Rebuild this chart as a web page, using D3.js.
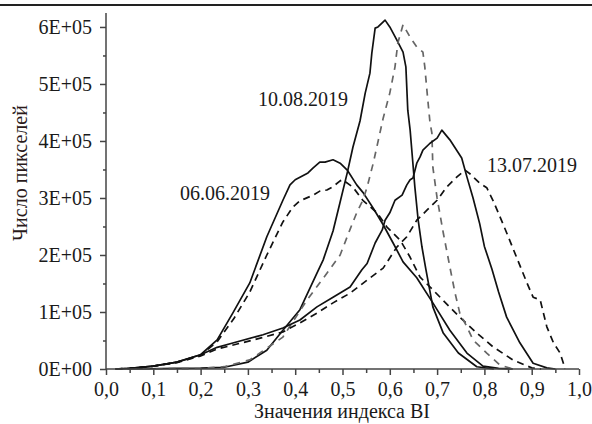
<!DOCTYPE html>
<html><head><meta charset="utf-8">
<script src="https://cdn.jsdelivr.net/npm/d3@7"></script>
<style>
html,body{margin:0;padding:0;background:#fff;}
svg{display:block;}
svg text{font-family:"Liberation Serif","Tinos","Times New Roman","DejaVu Serif","Noto Serif",serif !important;}
</style></head>
<body><svg id="c" width="592" height="424"></svg>
<script>
// ---- data (x = BI index, y = pixel count in units of 1E+05) ----
const x0606s = [0.02,0.05,0.10,0.15,0.20,0.235,0.268,0.304,0.34,0.374,0.389,0.40,0.427,0.438,0.452,0.463,0.48,0.495,0.51,0.53,0.544,0.565,0.586,0.607,0.628,0.657,0.691,0.727,0.763,0.797,0.83,0.86];
const y0606s = [0,0.01,0.05,0.12,0.25,0.51,0.98,1.51,2.32,2.96,3.23,3.32,3.44,3.53,3.63,3.63,3.67,3.61,3.49,3.23,3.09,2.82,2.53,2.21,1.88,1.60,1.16,0.68,0.28,0.05,0.01,0];
const x0606d = [0.02,0.05,0.10,0.15,0.20,0.235,0.27,0.304,0.34,0.374,0.395,0.41,0.438,0.452,0.467,0.48,0.495,0.50,0.522,0.543,0.573,0.594,0.622,0.643,0.664,0.691,0.712,0.748,0.784,0.818,0.86,0.90,0.92];
const y0606d = [0,0.01,0.05,0.12,0.24,0.48,0.88,1.35,2.00,2.58,2.84,2.95,3.05,3.12,3.14,3.20,3.30,3.32,3.19,2.96,2.74,2.49,2.26,1.96,1.61,1.39,1.21,0.91,0.63,0.39,0.16,0.02,0];
const x1008s = [0.05,0.15,0.20,0.25,0.30,0.34,0.374,0.41,0.446,0.459,0.48,0.495,0.51,0.522,0.537,0.548,0.558,0.562,0.569,0.575,0.59,0.60,0.615,0.628,0.634,0.638,0.643,0.647,0.653,0.66,0.668,0.676,0.691,0.713,0.745,0.784,0.82];
const y1008s = [0,0.01,0.015,0.03,0.12,0.33,0.68,1.04,1.68,1.91,2.42,2.93,3.44,3.89,4.35,4.84,5.19,5.54,5.98,6.00,6.12,6.00,5.77,5.56,5.30,4.54,4.19,3.79,3.19,2.61,2.14,1.76,1.09,0.63,0.28,0.04,0];
const x1008d = [0.05,0.20,0.25,0.304,0.374,0.425,0.467,0.495,0.516,0.531,0.543,0.552,0.565,0.586,0.60,0.611,0.617,0.626,0.628,0.643,0.657,0.67,0.674,0.679,0.685,0.689,0.691,0.70,0.713,0.727,0.738,0.748,0.763,0.776,0.805,0.833,0.86];
const y1008d = [0,0.01,0.04,0.16,0.56,1.21,1.68,2.00,2.45,2.76,2.96,3.19,3.61,4.40,4.84,5.30,5.72,5.98,6.04,5.82,5.65,5.56,5.30,4.84,4.32,4.14,3.54,3.00,2.39,1.79,1.33,0.98,0.74,0.51,0.28,0.07,0];
const x1307s = [0.02,0.05,0.10,0.15,0.20,0.235,0.27,0.332,0.374,0.41,0.446,0.48,0.516,0.541,0.552,0.569,0.584,0.59,0.60,0.611,0.626,0.636,0.643,0.649,0.657,0.664,0.67,0.685,0.70,0.71,0.727,0.752,0.763,0.776,0.79,0.80,0.816,0.83,0.847,0.875,0.903,0.932,0.95];
const y1307s = [0,0.01,0.05,0.12,0.25,0.38,0.46,0.60,0.72,0.86,1.09,1.26,1.44,1.74,1.85,2.21,2.44,2.61,2.74,2.96,3.05,3.23,3.32,3.35,3.61,3.72,3.84,3.96,4.05,4.19,4.02,3.70,3.37,3.00,2.55,2.15,1.75,1.35,0.91,0.46,0.10,0.02,0];
const x1307d = [0.02,0.05,0.10,0.15,0.20,0.235,0.283,0.33,0.374,0.41,0.446,0.48,0.516,0.552,0.586,0.615,0.636,0.657,0.679,0.70,0.72,0.742,0.759,0.77,0.79,0.805,0.818,0.833,0.847,0.868,0.89,0.903,0.918,0.932,0.946,0.96,0.967,0.97];
const y1307d = [0,0.01,0.05,0.11,0.23,0.35,0.45,0.55,0.65,0.81,0.98,1.16,1.33,1.56,1.77,2.14,2.32,2.61,2.79,2.96,3.19,3.37,3.49,3.42,3.26,3.18,2.96,2.67,2.39,1.96,1.51,1.26,1.21,0.74,0.46,0.28,0.10,0];

const xTickValues = [0,0.1,0.2,0.3,0.4,0.5,0.6,0.7,0.8,0.9,1.0];
const xTickLabels = ["0,0","0,1","0,2","0,3","0,4","0,5","0,6","0,7","0,8","0,9","1,0"];
const yTickValues = [0,1e5,2e5,3e5,4e5,5e5,6e5];
const yTickLabels = ["0E+00","1E+05","2E+05","3E+05","4E+05","5E+05","6E+05"];
const dateLabels = ["06.06.2019","10.08.2019","13.07.2019"];
const xTitle = "Значения индекса BI";
const yTitle = "Число пикселей";

// ---- drawing ----
const svg = d3.select("#c");
const x = d3.scaleLinear().domain([0,1]).range([106,579]);
const y = d3.scaleLinear().domain([0,6.245e5]).range([369,13]);

svg.append("rect").attr("x",0).attr("y",4).attr("width",592).attr("height",2).attr("fill","#222");

const series = [
  {xs:x0606s, ys:y0606s, color:"#111", dash:null},
  {xs:x0606d, ys:y0606d, color:"#111", dash:"7,5"},
  {xs:x1008s, ys:y1008s, color:"#111", dash:null},
  {xs:x1008d, ys:y1008d, color:"#666", dash:"7,6"},
  {xs:x1307s, ys:y1307s, color:"#111", dash:null},
  {xs:x1307d, ys:y1307d, color:"#111", dash:"7,5"}
];
const line = d3.line().x(d=>x(d[0])).y(d=>y(d[1]*1e5));
series.forEach(s=>{
  const pts = s.xs.map((v,i)=>[v,s.ys[i]]);
  svg.append("path").datum(pts).attr("d",line)
    .attr("fill","none").attr("stroke",s.color).attr("stroke-width",1.7)
    .attr("stroke-linejoin","round")
    .attr("stroke-dasharray",s.dash);
});

// axes
const axisColor = "#444";
const yMinor = d3.range(0.5e5, 6.245e5, 1e5);
const xMinor = d3.range(0.05, 1, 0.1);
const gy = svg.append("g").attr("transform",`translate(${x(0)},0)`)
  .call(d3.axisLeft(y).tickValues(yTickValues).tickSize(6).tickPadding(8)
    .tickFormat((d,i)=>yTickLabels[i]));
const gym = svg.append("g").attr("transform",`translate(${x(0)},0)`)
  .call(d3.axisLeft(y).tickValues(yMinor).tickSize(3).tickFormat(""));
const gx = svg.append("g").attr("transform",`translate(0,${y(0)})`)
  .call(d3.axisBottom(x).tickValues(xTickValues).tickSize(6).tickPadding(7)
    .tickFormat((d,i)=>xTickLabels[i]));
const gxm = svg.append("g").attr("transform",`translate(0,${y(0)})`)
  .call(d3.axisBottom(x).tickValues(xMinor).tickSize(4).tickFormat(""));
[gy,gym,gx,gxm].forEach(g=>{
  g.attr("font-family",null);
  g.select(".domain").remove();
  g.selectAll("line").attr("stroke",axisColor).attr("stroke-width",1.5);
  g.selectAll("text").attr("fill","#1a1a1a").style("font-size","20px");
});
svg.append("line").attr("x1",x(0)).attr("x2",x(0)).attr("y1",13).attr("y2",y(0))
  .attr("stroke",axisColor).attr("stroke-width",1.5);
svg.append("line").attr("x1",x(0)).attr("x2",x(1)).attr("y1",y(0)).attr("y2",y(0))
  .attr("stroke",axisColor).attr("stroke-width",1.5);

// labels
const lab = (t,px,py,anchor)=>svg.append("text").attr("x",px).attr("y",py)
  .attr("text-anchor",anchor||"start").attr("fill","#1a1a1a").style("font-size","20px").text(t);
lab(dateLabels[0],180,200);
lab(dateLabels[1],258,106);
lab(dateLabels[2],487,172);
lab(xTitle,342,418,"middle");
svg.append("text").attr("transform","translate(27,173) rotate(-90)")
  .attr("text-anchor","middle").attr("fill","#2a1a1a").style("font-size","20px").text(yTitle);
</script></body></html>
